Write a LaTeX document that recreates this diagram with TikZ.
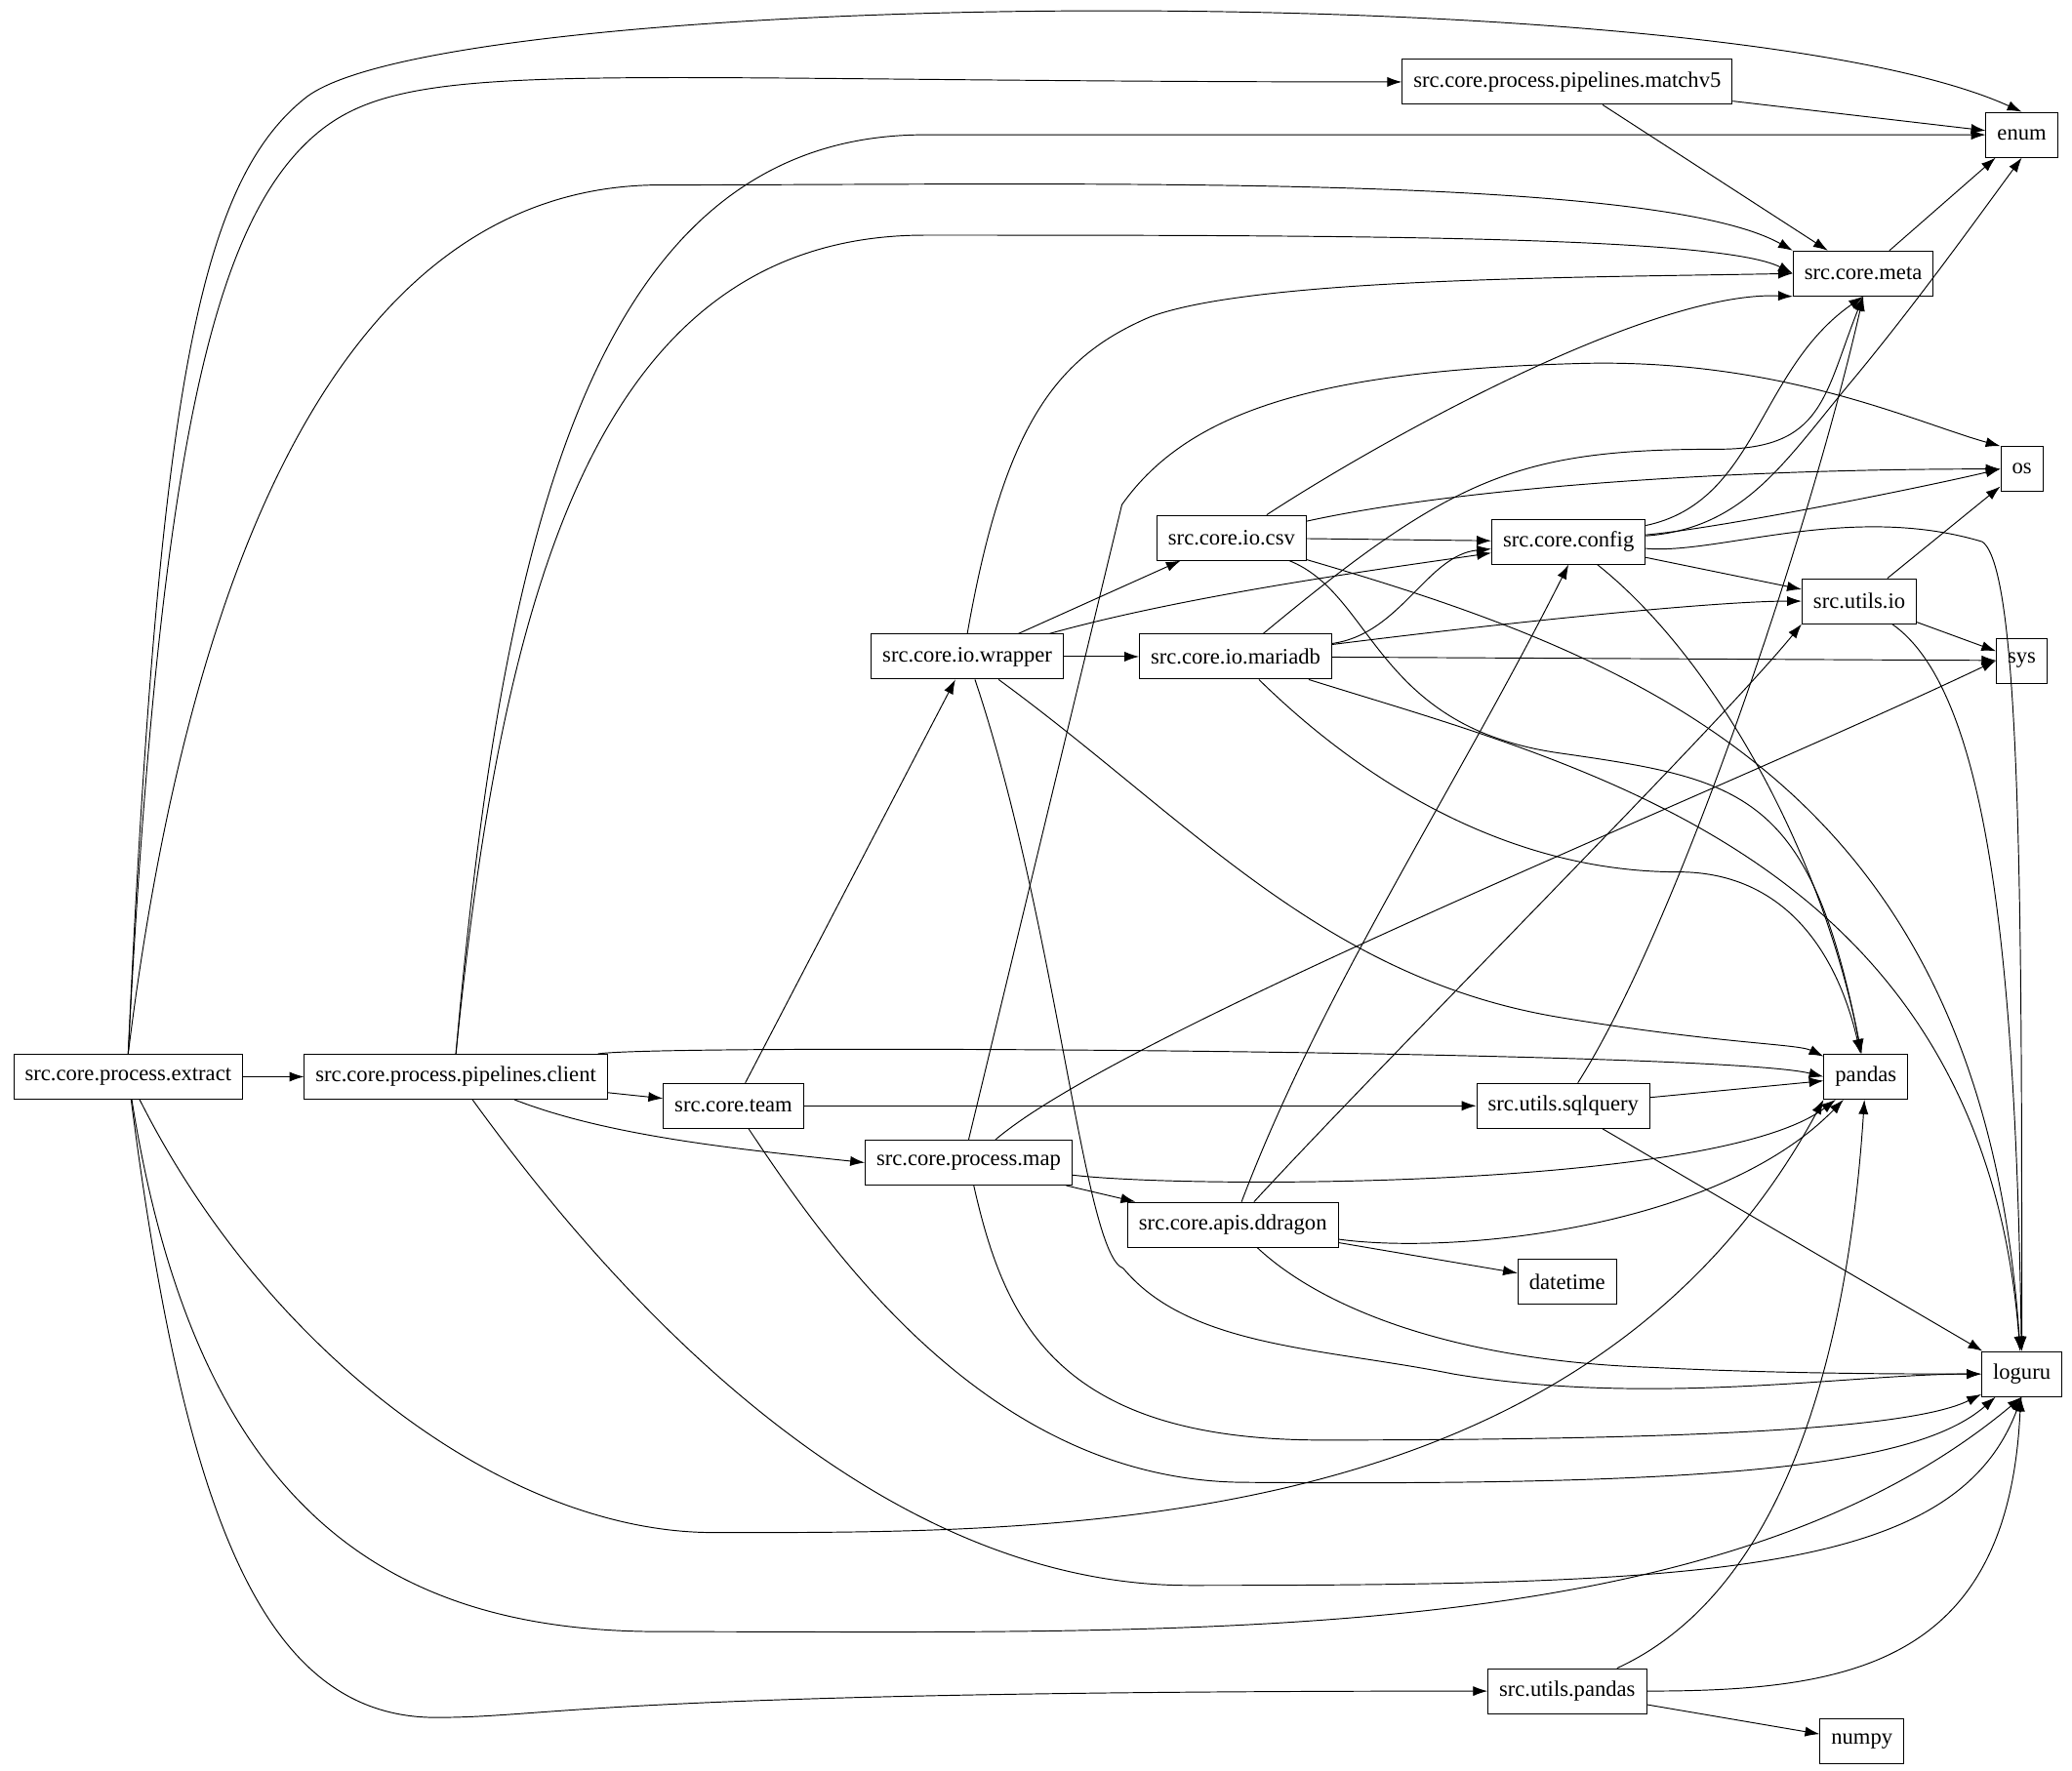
\documentclass[tikz,border=0pt]{standalone}
\usepackage{fontspec}
\setmainfont{Liberation Serif}
\usetikzlibrary{arrows.meta}
\tikzset{
  mod/.style={draw, rectangle, minimum height=0.68cm, inner xsep=0.17cm, font=\fontsize{9.5}{11}\selectfont},
  dep/.style={-{Latex[length=0.22cm,width=0.15cm]}},
}
\begin{document}
\begin{tikzpicture}[x=0.02cm, y=-0.02cm]
  \useasboundingbox (0,0) rectangle (1568,1340);

  % modules
  \node[mod] (extract) at (97,815) {src.core.process.extract};
  \node[mod] (client) at (345,815) {src.core.process.pipelines.client};
  \node[mod] (team) at (555,837) {src.core.team};
  \node[mod] (map) at (733,880) {src.core.process.map};
  \node[mod] (wrapper) at (732,497) {src.core.io.wrapper};
  \node[mod] (csv) at (932,407) {src.core.io.csv};
  \node[mod] (mariadb) at (935,497) {src.core.io.mariadb};
  \node[mod] (config) at (1187,410) {src.core.config};
  \node[mod] (ddragon) at (933,927) {src.core.apis.ddragon};
  \node[mod] (sqlquery) at (1183,837) {src.utils.sqlquery};
  \node[mod] (upandas) at (1186,1280) {src.utils.pandas};
  \node[mod] (matchv) at (1186,62) {src.core.process.pipelines.matchv5};
  \node[mod] (meta) at (1410,207) {src.core.meta};
  \node[mod] (uio) at (1407,455) {src.utils.io};
  % external
  \node[mod] (enum) at (1530,102) {enum};
  \node[mod] (os) at (1530,355) {os};
  \node[mod] (sys) at (1530,500) {sys};
  \node[mod] (pandas) at (1412,815) {pandas};
  \node[mod] (datetime) at (1186,970) {datetime};
  \node[mod] (loguru) at (1530,1040) {loguru};
  \node[mod] (numpy) at (1409,1318) {numpy};

  % extract
  \draw[dep] (extract) -- (client);
  \draw[dep] (extract.north) .. controls (120,300) and (150,140) .. (230,75) .. controls (330,-10) and (1300,-20) .. (enum.north);
  \draw[dep] (extract.north) .. controls (120,350) and (160,180) .. (230,110) .. controls (300,40) and (400,62) .. (matchv.west);
  \draw[dep] (extract.north) .. controls (140,450) and (250,140) .. (500,140) .. controls (800,140) and (1250,130) .. (meta.north west);
  \draw[dep] (extract) .. controls (200,1020) and (380,1160) .. (540,1160) .. controls (800,1160) and (1200,1165) .. (pandas.south west);
  \draw[dep] (extract) .. controls (150,1150) and (300,1235) .. (500,1235) .. controls (900,1235) and (1300,1250) .. (loguru.south);
  \draw[dep] (extract) .. controls (140,1150) and (200,1300) .. (330,1300) .. controls (420,1300) and (450,1280) .. (upandas.west);

  % client
  \draw[dep] (client.north) .. controls (380,400) and (450,102) .. (700,102) -- (enum.west);
  \draw[dep] (client.north) .. controls (380,450) and (450,178) .. (700,178) .. controls (1000,178) and (1300,178) .. (meta.west);
  \draw[dep] (client) .. controls (500,790) and (1300,795) .. (pandas.west);
  \draw[dep] (client) -- (team);
  \draw[dep] (client) .. controls (460,860) and (560,870) .. (map.west);
  \draw[dep] (client) .. controls (450,960) and (650,1200) .. (900,1200) .. controls (1300,1200) and (1480,1190) .. (loguru.south);

  % team
  \draw[dep] (team) -- (wrapper);
  \draw[dep] (team) -- (sqlquery);
  \draw[dep] (team) .. controls (630,950) and (750,1120) .. (940,1122) .. controls (1300,1125) and (1450,1110) .. (loguru);

  % map
  \draw[dep] (map.north) -- (849,382) .. controls (900,310) and (1000,280) .. (1200,275) .. controls (1350,272) and (1450,320) .. (os.north west);
  \draw[dep] (map) .. controls (850,780) and (1300,600) .. (sys.west);
  \draw[dep] (map) .. controls (900,900) and (1300,900) .. (pandas);
  \draw[dep] (map) -- (ddragon);
  \draw[dep] (map) .. controls (760,1000) and (800,1090) .. (1000,1090) .. controls (1300,1090) and (1450,1080) .. (loguru);

  % wrapper
  \draw[dep] (wrapper) -- (csv);
  \draw[dep] (wrapper) -- (mariadb);
  \draw[dep] (wrapper) .. controls (900,450) and (1050,430) .. (config);
  \draw[dep] (wrapper.north) .. controls (760,320) and (800,270) .. (870,240) .. controls (950,210) and (1200,210) .. (meta.west);
  \draw[dep] (wrapper) .. controls (900,620) and (1000,740) .. (1180,770) .. controls (1300,790) and (1360,790) .. (pandas);
  \draw[dep] (wrapper) .. controls (800,700) and (820,950) .. (850,960) .. controls (900,1020) and (1000,1020) .. (1100,1040) .. controls (1250,1065) and (1400,1040) .. (loguru.west);

  % csv
  \draw[dep] (csv) -- (config);
  \draw[dep] (csv) .. controls (1050,330) and (1250,220) .. (meta.south west);
  \draw[dep] (csv) .. controls (1100,370) and (1300,355) .. (os.west);
  \draw[dep] (csv) .. controls (1040,450) and (1040,550) .. (1180,570) .. controls (1320,590) and (1370,600) .. (pandas);
  \draw[dep] (csv) .. controls (1250,500) and (1500,600) .. (loguru);

  % mariadb
  \draw[dep] (mariadb) .. controls (1060,480) and (1080,420) .. (config);
  \draw[dep] (mariadb) .. controls (1100,360) and (1150,340) .. (1300,340) .. controls (1380,340) and (1380,300) .. (meta.south);
  \draw[dep] (mariadb) .. controls (1150,470) and (1300,455) .. (uio.west);
  \draw[dep] (mariadb) -- (sys);
  \draw[dep] (mariadb) .. controls (1040,600) and (1150,660) .. (1270,660) .. controls (1350,660) and (1390,720) .. (pandas);
  \draw[dep] (mariadb) .. controls (1200,580) and (1500,650) .. (loguru);

  % config
  \draw[dep] (config) .. controls (1330,380) and (1330,280) .. (meta.south);
  \draw[dep] (config) .. controls (1320,400) and (1350,350) .. (1400,290) .. controls (1450,230) and (1500,160) .. (enum.south);
  \draw[dep] (config) .. controls (1300,400) and (1450,370) .. (os.west);
  \draw[dep] (config) -- (uio);
  \draw[dep] (config) .. controls (1300,500) and (1380,650) .. (pandas);
  \draw[dep] (config) .. controls (1300,420) and (1400,380) .. (1500,410) .. controls (1530,430) and (1530,700) .. (loguru);

  % ddragon
  \draw[dep] (ddragon) .. controls (1000,750) and (1100,600) .. (config.south);
  \draw[dep] (ddragon) .. controls (1050,800) and (1300,550) .. (uio.south west);
  \draw[dep] (ddragon) .. controls (1100,950) and (1300,930) .. (pandas);
  \draw[dep] (ddragon) -- (datetime);
  \draw[dep] (ddragon) .. controls (1000,990) and (1100,1030) .. (1250,1035) .. controls (1350,1040) and (1450,1040) .. (loguru);

  % sqlquery
  \draw[dep] (sqlquery) .. controls (1270,700) and (1370,400) .. (meta.south);
  \draw[dep] (sqlquery) -- (pandas);
  \draw[dep] (sqlquery) -- (loguru);

  % utils
  \draw[dep] (matchv) -- (enum);
  \draw[dep] (matchv) -- (meta);
  \draw[dep] (meta) -- (enum);
  \draw[dep] (uio) -- (os);
  \draw[dep] (uio) -- (sys);
  \draw[dep] (uio) .. controls (1500,520) and (1525,700) .. (loguru);
  \draw[dep] (upandas) .. controls (1360,1200) and (1400,1000) .. (pandas);
  \draw[dep] (upandas) .. controls (1400,1280) and (1520,1260) .. (loguru);
  \draw[dep] (upandas) -- (numpy);
\end{tikzpicture}
\end{document}
